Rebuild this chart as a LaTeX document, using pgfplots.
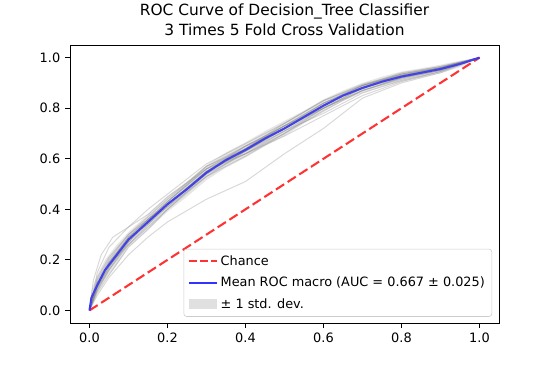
\documentclass[border=0pt]{standalone}
\usepackage{fontspec}
\setmainfont{DejaVu Sans}
\usepackage{pgfplots}
\pgfplotsset{compat=1.18}
\definecolor{chance}{RGB}{255,51,51}
\definecolor{meanblue}{RGB}{51,51,255}
\begin{document}
\begin{tikzpicture}
\useasboundingbox (-50.4pt,-33.1pt) rectangle (348.5pt,232.6pt);
\begin{axis}[
  at={(0,0)}, anchor=south west,
  scale only axis, width=308.9pt, height=200.2pt,
  xmin=-0.05, xmax=1.05, ymin=-0.05, ymax=1.05,
  xtick={0,0.2,0.4,0.6,0.8,1.0}, ytick={0,0.2,0.4,0.6,0.8,1.0},
  tick align=outside, major tick length=3.5pt,
  xtick pos=bottom, ytick pos=left,
  tick style={black, line width=0.6pt},
  axis line style={black, line width=0.6pt},
  /pgf/number format/assume math mode=true,
  /pgf/number format/.cd, fixed, fixed zerofill, precision=1, /pgfplots/.cd,
  ticklabel style={font=\fontsize{9.3}{11}\selectfont},
  title={ROC Curve of Decision\_Tree Classifier\\3 Times 5 Fold Cross Validation},
  title style={align=center, font=\fontsize{11.1}{13.9}\selectfont, yshift=-2.5pt},
  legend style={at={(rel axis cs:1,0)}, anchor=south east, xshift=-5pt, yshift=4.5pt,
    font=\fontsize{9.25}{11}\selectfont, draw=black!20, rounded corners=2pt,
    fill=white, row sep=3pt,
    cells={anchor=west}, inner xsep=3pt, inner ysep=2.5pt},
  legend cell align=left,
]
% individual folds
\pgfplotsset{fold/.style={gray, opacity=0.3, line width=0.72pt, forget plot}}
\addplot[fold] coordinates {(0,0)(0.02,0.12)(0.05,0.20)(0.1,0.30)(0.15,0.37)(0.2,0.44)(0.3,0.57)(0.4,0.65)(0.5,0.73)(0.6,0.82)(0.7,0.89)(0.8,0.93)(0.9,0.96)(1,1)};
\addplot[fold] coordinates {(0,0)(0.02,0.08)(0.05,0.16)(0.1,0.26)(0.15,0.33)(0.2,0.40)(0.3,0.53)(0.4,0.61)(0.5,0.70)(0.6,0.79)(0.7,0.87)(0.8,0.92)(0.9,0.95)(1,1)};
\addplot[fold] coordinates {(0,0)(0.02,0.15)(0.05,0.25)(0.1,0.33)(0.15,0.40)(0.2,0.46)(0.3,0.58)(0.4,0.66)(0.5,0.74)(0.6,0.83)(0.7,0.89)(0.8,0.94)(0.9,0.965)(1,1)};
\addplot[fold] coordinates {(0,0)(0.02,0.07)(0.05,0.14)(0.1,0.25)(0.15,0.32)(0.2,0.40)(0.3,0.54)(0.4,0.64)(0.5,0.73)(0.6,0.80)(0.7,0.88)(0.8,0.93)(0.9,0.96)(1,1)};
\addplot[fold] coordinates {(0,0)(0.02,0.06)(0.05,0.13)(0.1,0.22)(0.15,0.29)(0.2,0.35)(0.3,0.44)(0.4,0.51)(0.5,0.62)(0.6,0.72)(0.7,0.84)(0.8,0.90)(0.9,0.94)(1,1)};
\addplot[fold] coordinates {(0,0)(0.01,0.12)(0.03,0.22)(0.06,0.29)(0.1,0.33)(0.15,0.38)(0.2,0.45)(0.3,0.56)(0.4,0.65)(0.5,0.72)(0.6,0.80)(0.7,0.87)(0.8,0.92)(0.9,0.955)(1,1)};
\addplot[fold] coordinates {(0,0)(0.02,0.10)(0.05,0.19)(0.1,0.29)(0.15,0.36)(0.2,0.43)(0.3,0.56)(0.4,0.62)(0.5,0.71)(0.6,0.80)(0.7,0.88)(0.8,0.92)(0.9,0.95)(1,1)};
\addplot[fold] coordinates {(0,0)(0.02,0.09)(0.05,0.17)(0.1,0.27)(0.15,0.35)(0.2,0.41)(0.3,0.53)(0.4,0.63)(0.5,0.71)(0.6,0.78)(0.7,0.86)(0.8,0.91)(0.9,0.945)(1,1)};
\addplot[fold] coordinates {(0,0)(0.02,0.11)(0.05,0.19)(0.1,0.28)(0.15,0.36)(0.2,0.43)(0.3,0.57)(0.4,0.64)(0.5,0.73)(0.6,0.81)(0.7,0.885)(0.8,0.935)(0.9,0.96)(1,1)};
\addplot[fold] coordinates {(0,0)(0.02,0.09)(0.05,0.18)(0.1,0.29)(0.15,0.34)(0.2,0.41)(0.3,0.55)(0.4,0.63)(0.5,0.72)(0.6,0.82)(0.7,0.89)(0.8,0.93)(0.9,0.955)(1,1)};
\addplot[fold] coordinates {(0,0)(0.02,0.13)(0.05,0.21)(0.1,0.30)(0.15,0.36)(0.2,0.42)(0.3,0.54)(0.4,0.62)(0.5,0.70)(0.6,0.80)(0.7,0.87)(0.8,0.915)(0.9,0.95)(1,1)};
\addplot[fold] coordinates {(0,0)(0.02,0.08)(0.05,0.16)(0.1,0.27)(0.15,0.35)(0.2,0.43)(0.3,0.56)(0.4,0.64)(0.5,0.74)(0.6,0.83)(0.7,0.895)(0.8,0.935)(0.9,0.965)(1,1)};
\addplot[fold] coordinates {(0,0)(0.02,0.10)(0.05,0.18)(0.1,0.26)(0.15,0.34)(0.2,0.42)(0.3,0.55)(0.4,0.65)(0.5,0.73)(0.6,0.82)(0.7,0.88)(0.8,0.925)(0.9,0.96)(1,1)};
\addplot[fold] coordinates {(0,0)(0.02,0.11)(0.05,0.19)(0.1,0.29)(0.15,0.36)(0.2,0.42)(0.3,0.55)(0.4,0.62)(0.5,0.69)(0.6,0.77)(0.7,0.85)(0.8,0.905)(0.9,0.945)(1,1)};
\addplot[fold] coordinates {(0,0)(0.02,0.09)(0.05,0.17)(0.1,0.28)(0.15,0.35)(0.2,0.42)(0.3,0.55)(0.4,0.63)(0.5,0.72)(0.6,0.81)(0.7,0.89)(0.8,0.935)(0.9,0.96)(1,1)};
% chance
\addplot[chance, dash pattern=on 7pt off 3pt, line width=1.5pt,
  legend image code/.code={\draw[chance, sharp corners, line width=1.5pt, dash pattern=on 5.5pt off 2.5pt] (0pt,0pt) -- (20pt,0pt);}] coordinates {(0,0)(1,1)};
\addlegendentry{Chance}
% mean
\addplot[meanblue, line width=1.5pt,
  legend image code/.code={\draw[meanblue, sharp corners, line width=1.5pt] (0pt,0pt) -- (20pt,0pt);}] coordinates {(0,0)(0.005,0.05)(0.02,0.10)(0.04,0.16)(0.07,0.22)(0.1,0.28)(0.15,0.35)(0.2,0.42)(0.25,0.48)(0.3,0.545)(0.35,0.595)(0.4,0.635)(0.45,0.68)(0.5,0.72)(0.55,0.765)(0.6,0.81)(0.65,0.85)(0.7,0.88)(0.75,0.905)(0.8,0.925)(0.85,0.94)(0.9,0.955)(0.95,0.975)(1,1)};
\addlegendentry{Mean ROC macro (AUC = 0.667 ± 0.025)}
% band
\addplot[fill=gray, fill opacity=0.2, draw=none,
  legend image code/.code={\fill[black!12, fill opacity=1, sharp corners] (0pt,-3.5pt) rectangle (20pt,3.5pt);}] coordinates {(0,0)(0.005,0.08)(0.02,0.14)(0.04,0.20)(0.07,0.26)(0.1,0.31)(0.15,0.38)(0.2,0.45)(0.25,0.51)(0.3,0.575)(0.35,0.625)(0.4,0.665)(0.45,0.71)(0.5,0.75)(0.55,0.79)(0.6,0.835)(0.65,0.87)(0.7,0.90)(0.75,0.925)(0.8,0.945)(0.85,0.958)(0.9,0.972)(0.95,0.988)(1,1)
 (0.95,0.962)(0.9,0.938)(0.85,0.922)(0.8,0.905)(0.75,0.885)(0.7,0.86)(0.65,0.83)(0.6,0.785)(0.55,0.74)(0.5,0.69)(0.45,0.65)(0.4,0.605)(0.35,0.565)(0.3,0.515)(0.25,0.45)(0.2,0.39)(0.15,0.32)(0.1,0.25)(0.07,0.18)(0.04,0.12)(0.02,0.07)(0.005,0.03)} -- cycle;
\addlegendentry{± 1 std. dev.}
\end{axis}
\end{tikzpicture}
\end{document}
